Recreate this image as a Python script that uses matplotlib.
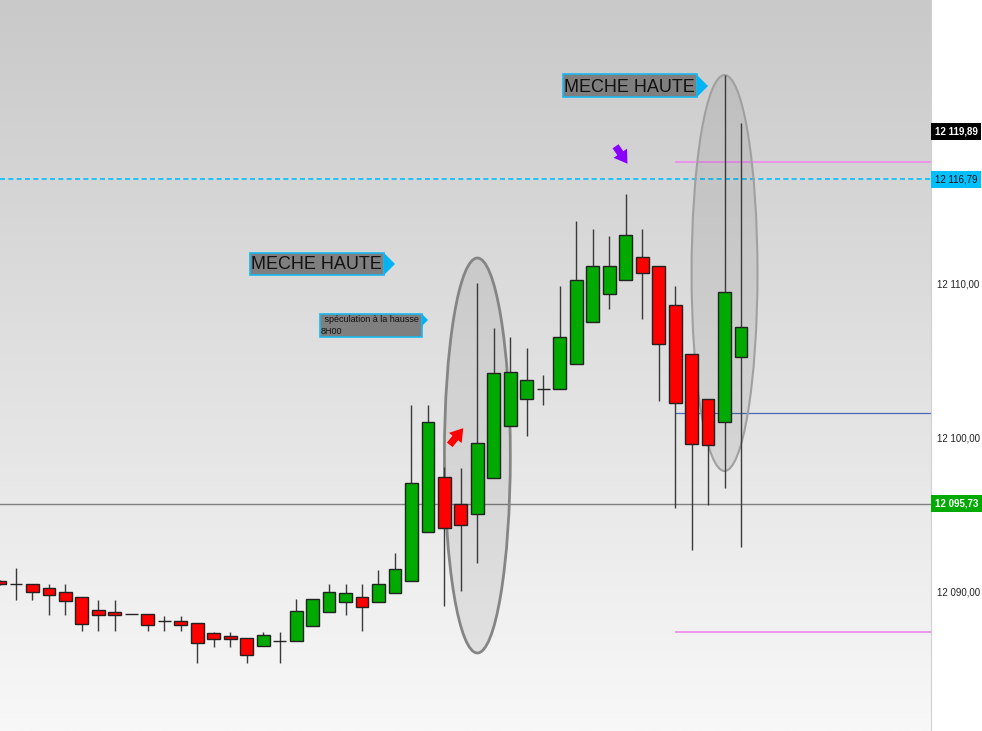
import numpy as np
import matplotlib
matplotlib.use("Agg")
import matplotlib.pyplot as plt
from matplotlib.patches import Ellipse, Polygon, FancyArrowPatch
from matplotlib.colors import LinearSegmentedColormap
import matplotlib.transforms as mtransforms

plt.rcParams['font.family'] = ['Liberation Sans', 'DejaVu Sans']

# OHLC (one candle per slot, oldest first)
opens = [12090.70, 12090.52, 12090.50, 12090.26, 12090.02, 12089.70, 12088.82, 12088.69,
         12088.58, 12088.54, 12088.14, 12088.14, 12087.99, 12087.34, 12087.13, 12087.00,
         12086.49, 12086.84, 12086.82, 12087.77, 12088.68, 12089.35, 12089.67, 12089.33,
         12089.94, 12090.69, 12093.92, 12097.47, 12095.74, 12095.05, 12097.38, 12100.76,
         12102.53, 12103.18, 12103.16, 12104.82, 12107.55, 12109.35, 12110.26, 12111.73,
         12111.19, 12108.66, 12105.44, 12102.51, 12101.02, 12105.24]
highs = [12090.75, 12091.56, 12090.50, 12090.52, 12090.52, 12089.70, 12089.47, 12089.47,
         12088.58, 12088.54, 12088.44, 12088.44, 12087.99, 12087.40, 12087.40, 12087.00,
         12087.40, 12087.40, 12089.53, 12089.53, 12090.52, 12090.52, 12090.52, 12091.43,
         12092.51, 12102.14, 12102.14, 12098.14, 12098.04, 12110.06, 12107.12, 12106.58,
         12105.82, 12104.09, 12109.87, 12114.09, 12113.57, 12113.12, 12115.84, 12113.57,
         12111.19, 12109.87, 12105.44, 12102.51, 12123.57, 12120.44]
lows = [12090.45, 12089.48, 12089.50, 12088.50, 12088.50, 12087.49, 12087.49, 12087.49,
        12088.54, 12087.49, 12087.49, 12087.49, 12085.37, 12086.45, 12086.45, 12085.37,
        12086.49, 12085.37, 12086.82, 12087.77, 12088.68, 12088.48, 12087.49, 12089.33,
        12089.94, 12090.69, 12093.92, 12089.09, 12090.05, 12091.86, 12097.38, 12100.76,
        12100.13, 12102.14, 12103.16, 12104.82, 12107.55, 12108.36, 12110.26, 12107.71,
        12102.42, 12095.43, 12092.73, 12095.65, 12096.73, 12092.90]
closes = [12090.50, 12090.50, 12090.02, 12089.79, 12089.39, 12087.94, 12088.50, 12088.50,
          12088.56, 12087.85, 12088.10, 12087.85, 12086.67, 12086.93, 12086.93, 12085.89,
          12087.21, 12086.84, 12088.77, 12089.53, 12090.02, 12089.92, 12089.03, 12090.50,
          12091.47, 12097.08, 12101.02, 12094.14, 12094.32, 12099.66, 12104.24, 12104.27,
          12103.75, 12103.16, 12106.54, 12110.28, 12111.15, 12111.19, 12113.18, 12110.69,
          12106.08, 12102.25, 12099.61, 12099.53, 12109.48, 12107.23]

# price levels
y_ticks = [12090.00, 12100.00, 12110.00]
last_high = 12119.89
level_cyan = 12116.79
level_gray = 12095.73
level_pink = [12117.92, 12087.40]
level_blue = 12101.60
levels_from = 41  # partial lines start at this candle

W, H = 982, 731
fig = plt.figure(figsize=(W / 100, H / 100), dpi=100)
fig.patch.set_facecolor('white')
ax = fig.add_axes([0, 0, 931 / W, 1])
ax.set_xlim(0.03, 56.53)
ax.set_ylim(12080.97, 12128.44)

# background gradient
grad = LinearSegmentedColormap.from_list('bg', ['#f8f8f8', '#c9c9c9'])
ax.imshow(np.linspace(0, 1, 256).reshape(-1, 1), extent=[0, 1, 0, 1],
          transform=ax.transAxes, aspect='auto', cmap=grad, origin='lower', zorder=0)

# horizontal levels
xe = ax.get_xlim()[1]
ax.axhline(level_cyan, color='#00bfff', lw=1.2, ls=(0, (3, 2)), zorder=1)
ax.axhline(level_gray, color='#808080', lw=1, zorder=1)
for lv in level_pink:
    ax.hlines(lv, levels_from, xe, color='#ee88ee', lw=1.2, zorder=1)
ax.hlines(level_blue, levels_from, xe, color='#4a6ab8', lw=0.9, zorder=1)

# ellipses round the two upper wicks
for cx, cy, h, ec, lw in [(29, 12098.86, 25.65, '#858585', 2.0),
                          (44, 12110.71, 25.71, '#a0a0a0', 1.5)]:
    ax.add_patch(Ellipse((cx, cy), 4.0, h, facecolor=(0, 0, 0, 0.07),
                         edgecolor=ec, lw=lw, zorder=2))

# candles
x = np.arange(len(opens))
o = np.array(opens)
c = np.array(closes)
up = c >= o
cols = np.where(up, '#00aa00', '#ff0000')
ax.vlines(x, lows, highs, color='#3a3a3a', lw=1, zorder=3)
ax.bar(x, np.abs(c - o), bottom=np.minimum(o, c), width=0.78, color=cols,
       edgecolor='#222222', linewidth=1, zorder=4)

# right axis
def fmt(v):
    return f"{v:,.2f}".replace(',', ' ').replace('.', ',')


ax.yaxis.tick_right()
ax.set_yticks(y_ticks)
ax.set_yticklabels([fmt(v) for v in y_ticks], fontsize=7, color='#222222')
ax.tick_params(axis='y', length=0, pad=4.5)
ax.set_xticks([])
for s in ['top', 'left', 'bottom']:
    ax.spines[s].set_visible(False)
ax.spines['right'].set_color('#d0d0d0')

tr = mtransforms.blended_transform_factory(ax.transAxes, ax.transData)
for val, fc, tc in [(last_high, 'black', 'white'), (level_cyan, '#00bfff', '#111111'),
                    (level_gray, '#00aa00', 'white')]:
    ax.text(1.004, val, fmt(val), transform=tr, fontsize=7, color=tc, va='center',
            ha='left', clip_on=False, zorder=10, fontweight='bold' if tc == 'white' else 'normal',
            bbox=dict(boxstyle='square,pad=0.35', fc=fc, ec='none'))


# annotation tags, placed in figure pixels (top-left origin)
def fp(px, py):
    return (px / W, 1 - py / H)


def tag(x0, y0, x1, y1, tip, lines, size):
    box = Polygon([fp(x0, y0), fp(x1, y0), fp(x1, y1), fp(x0, y1)], closed=True,
                  transform=fig.transFigure, fc='#7f7f7f', ec='#1ab8f0', lw=1.2, zorder=20)
    tri = Polygon([fp(x1, tip[1] - tip[2]), fp(tip[0], tip[1]), fp(x1, tip[1] + tip[2])],
                  closed=True, transform=fig.transFigure, fc='#00b4f5', ec='none', zorder=20)
    fig.patches.extend([box, tri])
    for tx, ty, s in lines:
        fig.text(*fp(tx, ty), s, fontsize=size, color='#111111', va='center', ha='left',
                 zorder=21)


tag(250, 253, 384, 275, (395, 264, 11), [(251, 265, 'MECHE HAUTE')], 13)
tag(563, 74, 697, 97, (708, 86, 11), [(564, 87, 'MECHE HAUTE')], 13)
tag(320, 314, 422, 337, (428, 320, 6), [(322, 320, ' spéculation à la hausse'),
                                        (321, 331, '8H00')], 6.5)

# small arrows
for (x0, y0), (x1, y1), col in [((448, 447), (465, 426), '#ff0000'),
                                ((614, 144), (629, 166), '#8a00ff')]:
    arr = FancyArrowPatch(fp(x0, y0), fp(x1, y1), transform=fig.transFigure,
                          arrowstyle='simple,head_length=0.7,head_width=0.9,tail_width=0.4',
                          mutation_scale=13, color=col, lw=0, zorder=22)
    fig.patches.append(arr)

fig.savefig('out.png', dpi=100, facecolor='white')
